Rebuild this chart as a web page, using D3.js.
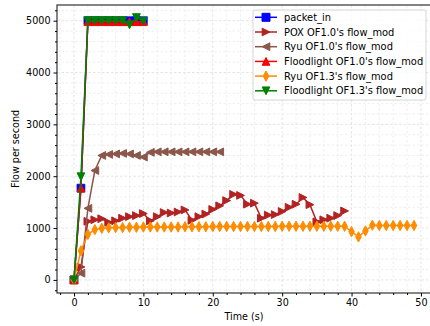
<!DOCTYPE html>
<html><head><meta charset="utf-8">
<script src="https://cdn.jsdelivr.net/npm/d3@7"></script>
<style>body{margin:0;background:#fff}svg{display:block}text{font-family:"DejaVu Sans",sans-serif;fill:#000}</style>
</head><body><svg id="c" width="430" height="326"></svg>
<script>
const seriesNames = ["packet_in","POX OF1.0's flow_mod","Ryu OF1.0's flow_mod","Floodlight OF1.0's flow_mod","Ryu OF1.3's flow_mod","Floodlight OF1.3's flow_mod"];
const packetIn = [0,1770,5000,5000,5000,5000,5000,5000,5000,5000,5000];
const poxOF10 = [0,250,1130,1160,1180,1110,1140,1190,1220,1240,1280,1140,1220,1300,1290,1310,1350,1150,1220,1270,1360,1430,1530,1650,1630,1460,1480,1190,1250,1260,1320,1400,1460,1590,1450,1120,1160,1190,1240,1330];
const ryuOF10 = [0,130,1380,2110,2400,2420,2430,2440,2430,2400,2370,2460,2470,2470,2470,2470,2470,2470,2470,2470,2470,2470];
const floodOF10 = [0,1770,4980,4980,4980,4980,4980,4980,4980,4980,4980];
const ryuOF13 = [0,560,880,970,995,1005,1010,1010,1015,1015,1020,1020,1020,1020,1020,1020,1025,1025,1025,1025,1030,1030,1030,1030,1030,1030,1030,1030,1030,1030,1035,1035,1035,1035,1035,1035,1035,1035,1035,1035,930,830,945,1055,1050,1050,1050,1050,1050,1050];
const floodOF13 = [0,1990,5000,5000,5000,5000,5000,5000,4920,5060,4990];
const xTicks = [0,10,20,30,40,50];
const yTicks = [0,1000,2000,3000,4000,5000];
const colors = ["#0000ff","#b22222","#8c564b","#ff0000","#ff8c00","#008000"];
const markers = ["square","right","left","up","thin","down"];
const allData = [packetIn,poxOF10,ryuOF10,floodOF10,ryuOF13,floodOF13];

const svg = d3.select("#c");
const L=57,R=431,T=5,B=293;
const x = d3.scaleLinear().domain([-2.45,51.45]).range([L,R]);
const y = d3.scaleLinear().domain([-252.5,5302.5]).range([B,T]);

// grid (major+minor)
const gx = d3.range(-2,52,2), gy = d3.range(-200,5301,200);
const grid = svg.append("g");
grid.selectAll("line.vx").data(gx).join("line").attr("x1",d=>x(d)).attr("x2",d=>x(d)).attr("y1",T).attr("y2",B)
  .attr("stroke",d=>d%10===0?"#d8d8d8":"#e8e8e8").attr("stroke-width",0.7).attr("stroke-dasharray","2.5,2");
grid.selectAll("line.hy").data(gy).join("line").attr("y1",d=>y(d)).attr("y2",d=>y(d)).attr("x1",L).attr("x2",R)
  .attr("stroke",d=>d%1000===0?"#d8d8d8":"#e8e8e8").attr("stroke-width",0.7).attr("stroke-dasharray","2.5,2");

// marker shapes
function shape(kind){
  return {draw(ctx,s){
    const r=Math.sqrt(s);
    if(kind==="square"){ctx.rect(-r,-r,2*r,2*r);}
    else if(kind==="up"){ctx.moveTo(0,-r);ctx.lineTo(-r,r);ctx.lineTo(r,r);ctx.closePath();}
    else if(kind==="down"){ctx.moveTo(0,r);ctx.lineTo(-r,-r);ctx.lineTo(r,-r);ctx.closePath();}
    else if(kind==="right"){ctx.moveTo(r,0);ctx.lineTo(-r,-r);ctx.lineTo(-r,r);ctx.closePath();}
    else if(kind==="left"){ctx.moveTo(-r,0);ctx.lineTo(r,-r);ctx.lineTo(r,r);ctx.closePath();}
    else if(kind==="thin"){ctx.moveTo(0,-r*1.1);ctx.lineTo(r*0.6,0);ctx.lineTo(0,r*1.1);ctx.lineTo(-r*0.6,0);ctx.closePath();}
  }};
}
const msize = {square:16,right:15,left:15,up:15,thin:22,down:15};

const plot = svg.append("g");
const line = d3.line().x((d,i)=>x(i)).y(d=>y(d));
allData.forEach((arr,k)=>{
  const g = plot.append("g");
  g.append("path").datum(arr).attr("d",line).attr("fill","none").attr("stroke",colors[k]).attr("stroke-width",1.5);
  g.selectAll("path.m").data(arr).join("path").attr("class","m")
    .attr("transform",(d,i)=>`translate(${x(i)},${y(d)})`)
    .attr("d",d3.symbol().type(shape(markers[k])).size(msize[markers[k]]))
    .attr("fill",colors[k]).attr("stroke",colors[k]).attr("stroke-width",1)
    .attr("stroke-opacity",k===0?0.6:1);
});

// frame
svg.append("rect").attr("x",L).attr("y",T).attr("width",R-L).attr("height",B-T).attr("fill","none").attr("stroke","#333").attr("stroke-width",1.2);

// axes
const fmt = d3.format("d");
const xa = svg.append("g").attr("transform",`translate(0,${B})`)
  .call(d3.axisBottom(x).tickValues(xTicks).tickFormat(fmt).tickSize(3.5).tickPadding(3));
const xm = svg.append("g").attr("transform",`translate(0,${B})`)
  .call(d3.axisBottom(x).tickValues(d3.range(-2,52,2).filter(v=>v%10!==0)).tickSize(2).tickFormat(""));
const ya = svg.append("g").attr("transform",`translate(${L},0)`)
  .call(d3.axisLeft(y).tickValues(yTicks).tickFormat(fmt).tickSize(3.5).tickPadding(3));
const ym = svg.append("g").attr("transform",`translate(${L},0)`)
  .call(d3.axisLeft(y).tickValues(d3.range(-200,5301,200).filter(v=>v%1000!==0)).tickSize(2).tickFormat(""));
[xa,xm,ya,ym].forEach(a=>{a.select(".domain").remove();a.selectAll("line").attr("stroke","#000").attr("stroke-width",1);
  a.selectAll("text").attr("font-family","DejaVu Sans").attr("font-size","9.6px").attr("fill","#000");});

svg.append("text").attr("x",(L+R)/2).attr("y",320).attr("text-anchor","middle").attr("font-size","9.6px").text("Time (s)");
svg.append("text").attr("transform",`translate(18.5,${(T+B)/2}) rotate(-90)`).attr("text-anchor","middle").attr("font-size","9.6px").text("Flow per second");

// legend
const lg = svg.append("g").attr("transform","translate(253,10)");
lg.append("rect").attr("width",173).attr("height",90).attr("rx",2).attr("fill","#fff").attr("fill-opacity",0.8).attr("stroke","#ccc").attr("stroke-width",0.8);
seriesNames.forEach((n,k)=>{
  const yy = 7.3 + k*14.7;
  const e = lg.append("g").attr("transform",`translate(0,${yy})`);
  e.append("line").attr("x1",2).attr("x2",24).attr("y1",0).attr("y2",0).attr("stroke",colors[k]).attr("stroke-width",1.5);
  e.append("path").attr("transform","translate(13,0)").attr("d",d3.symbol().type(shape(markers[k])).size(msize[markers[k]]))
    .attr("fill",colors[k]).attr("stroke",colors[k]);
  e.append("text").attr("x",31).attr("y",3.5).attr("font-size","9.9px").text(n);
});
</script></body></html>
